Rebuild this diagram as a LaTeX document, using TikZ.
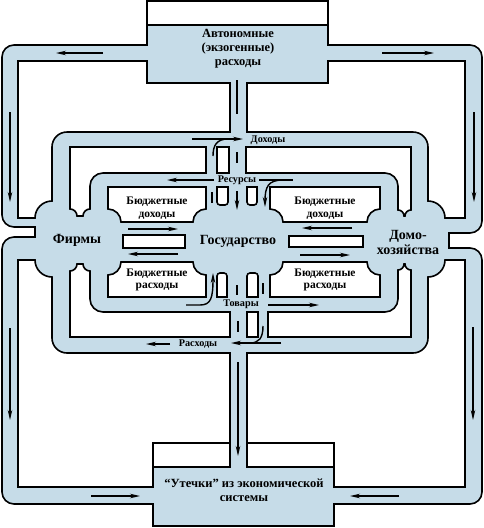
\documentclass[tikz,border=0pt]{standalone}
\usepackage{fontspec}
\setmainfont{Liberation Serif}
\usetikzlibrary{arrows.meta}
\definecolor{pipeblue}{RGB}{198,220,232}

\begin{document}
\begin{tikzpicture}[x=1pt, y=-1pt,
  pipe/.style={draw=black, line width=1.6pt, fill=pipeblue},
  hole/.style={draw=black, line width=1.6pt, fill=white},
  flow/.style={-{Stealth[length=10pt, width=4.5pt]}, line width=1.4pt},
  tick/.style={line width=1.4pt},
  agent/.style={font=\bfseries\fontsize{14}{15}\selectfont, align=center, inner sep=0pt},
  tag/.style={font=\bfseries\fontsize{11.5}{12.5}\selectfont, align=center, inner sep=0pt},
  ringtag/.style={font=\bfseries\fontsize{10.2}{12}\selectfont, inner sep=0pt}
]
  \useasboundingbox (0,0) rectangle (484,528);

  % Outer pipe with both boxes
  \draw[pipe] (147,1) -- (328,1) -- (328,45) -- (470,45) arc[start angle=-90, end angle=0, radius=12]
    -- (482,221) arc[start angle=0, end angle=90, radius=12] -- (449,233) -- (449,248)
    -- (470,248) arc[start angle=-90, end angle=0, radius=12]
    -- (482,492) arc[start angle=0, end angle=90, radius=12] -- (334,504) -- (334,526)
    -- (153,526) -- (153,504) -- (14,504) arc[start angle=90, end angle=180, radius=12]
    -- (2,249) arc[start angle=180, end angle=270, radius=12] -- (35,237) -- (35,227)
    -- (14,227) arc[start angle=90, end angle=180, radius=12]
    -- (2,57) arc[start angle=180, end angle=270, radius=12] -- (147,45) -- cycle;

  % Holes outside the middle ring
  \draw[hole] (18,61) -- (147,61) -- (147,83) -- (230,83) -- (230,132)
    -- (67,132) arc[start angle=-90, end angle=-180, radius=15]
    -- (52,201) arc[start angle=-90, end angle=-180, radius=17] -- (18,218) -- cycle;
  \draw[hole] (465,61) -- (328,61) -- (328,83) -- (247,83) -- (247,132)
    -- (413,132) arc[start angle=-90, end angle=0, radius=15]
    -- (428,201) arc[start angle=-90, end angle=0, radius=17] -- (465,218) -- cycle;
  \draw[hole] (18,260) -- (35,260) arc[start angle=180, end angle=90, radius=17]
    -- (52,338) arc[start angle=180, end angle=90, radius=15] -- (230,353) -- (230,443)
    -- (153,443) -- (153,487) -- (18,487) -- cycle;
  \draw[hole] (465,260) -- (445,260) arc[start angle=0, end angle=90, radius=17]
    -- (428,338) arc[start angle=0, end angle=90, radius=15] -- (247,353) -- (247,443)
    -- (334,443) -- (334,487) -- (465,487) -- cycle;

  % Holes between the middle and the inner ring
  \draw[hole] (70,147) -- (206,147) -- (206,173) -- (103,173) arc[start angle=-90, end angle=-180, radius=13]
    -- (90,209) arc[start angle=-90, end angle=-180, radius=7]
    -- (77,216) arc[start angle=0, end angle=-90, radius=7] -- cycle;
  \draw[hole] (217,147) rectangle (229,173);
  \draw[hole] (411,147) -- (246,147) -- (246,173) -- (385,173) arc[start angle=-90, end angle=0, radius=13]
    -- (398,210) arc[start angle=-90, end angle=0, radius=6]
    -- (405,216) arc[start angle=180, end angle=270, radius=6] -- cycle;
  \draw[hole] (70,337) -- (230,337) -- (230,312) -- (103,312) arc[start angle=90, end angle=180, radius=13]
    -- (90,271) arc[start angle=90, end angle=180, radius=7]
    -- (77,264) arc[start angle=0, end angle=90, radius=7] -- cycle;
  \draw[hole] (247,312) rectangle (258,337);
  \draw[hole] (411,337) -- (268,337) -- (268,312) -- (385,312) arc[start angle=90, end angle=0, radius=13]
    -- (398,270) arc[start angle=90, end angle=0, radius=6]
    -- (405,264) arc[start angle=180, end angle=90, radius=6] -- cycle;

  % Budget boxes inside the inner ring
  \draw[hole] (108,187) -- (206,187) -- (206,209) arc[start angle=-90, end angle=-180, radius=13]
    -- (121,222) arc[start angle=0, end angle=-90, radius=13] -- cycle;
  \draw[hole] (270,187) -- (380,187) -- (380,209) arc[start angle=-90, end angle=-180, radius=13]
    -- (283,222) arc[start angle=0, end angle=-90, radius=13] -- cycle;
  \draw[hole] (108,297) -- (108,275) arc[start angle=90, end angle=0, radius=13]
    -- (193,262) arc[start angle=180, end angle=90, radius=13] -- (206,297) -- cycle;
  \draw[hole] (270,297) -- (270,275) arc[start angle=90, end angle=0, radius=13]
    -- (367,262) arc[start angle=180, end angle=90, radius=13] -- (380,297) -- cycle;
  \draw[hole] (217,187) -- (217,202) arc[start angle=180, end angle=90, radius=3]
    -- (225,205) arc[start angle=90, end angle=0, radius=3] -- (228,187) -- cycle;
  \draw[hole] (247,187) -- (247,202) arc[start angle=180, end angle=90, radius=3]
    -- (254,205) arc[start angle=90, end angle=0, radius=3] -- (257,187) -- cycle;
  \draw[hole] (217,297) -- (217,276) arc[start angle=180, end angle=270, radius=3]
    -- (224,273) arc[start angle=270, end angle=360, radius=3] -- (227,297) -- cycle;
  \draw[hole] (247,297) -- (247,276) arc[start angle=180, end angle=270, radius=3]
    -- (255,273) arc[start angle=270, end angle=360, radius=3] -- (258,297) -- cycle;
  \draw[hole] (123,235) rectangle (185,248);
  \draw[hole] (289,236) rectangle (363,247);

  % White parts of the two boxes
  \draw[hole] (147,1) rectangle (328,25);
  \draw[hole] (153,443) rectangle (230,467);
  \draw[hole] (247,443) rectangle (334,467);

  % Flows in the outer pipe
  \draw[flow] (103,53) -- (56,53);
  \draw[flow] (382,53) -- (434,53);
  \draw[flow] (10,112) -- (10,202);
  \draw[flow] (10,328) -- (10,420);
  \draw[flow] (474,112) -- (474,202);
  \draw[flow] (473,327) -- (473,420);
  \draw[flow] (91,496) -- (140,496);
  \draw[flow] (399,496) -- (350,496);

  % Flows in the central column
  \draw[tick] (237,80) -- (237,114);
  \draw[tick] (237,152) -- (237,163);
  \draw[flow] (237,191) -- (237,210);
  \draw[tick] (212,192) -- (212,203);
  \draw[tick] (237,285) -- (237,295);
  \draw[tick] (263,283) -- (263,294);
  \draw[tick] (238,321) -- (238,332);
  \draw[flow] (238,362) -- (238,456);

  % Flows between the sectors
  \draw[flow] (128,229) -- (178,229);
  \draw[flow] (178,254) -- (128,254);
  \draw[flow] (352,228) -- (302,228);
  \draw[flow] (300,255) -- (350,255);

  % Ring labels and their flows
  \node[ringtag] (income) at (268,140) {Доходы};
  \draw[flow] (192,139) -- (243,139);
  \draw[tick] (213,156) .. controls (213,145) and (217,139) .. (228,139);
  \node[ringtag] (resources) at (237,180) {Ресурсы};
  \draw[flow] (214,180) -- (167,180);
  \draw[tick] (259,180) -- (293,180);
  \draw[flow] (283,180) .. controls (268,180) and (265,187) .. (265,207);
  \node[ringtag] (goods) at (241,304) {Товары};
  \draw[flow] (186,305) -- (200,305) .. controls (211,305) and (213,298) .. (213,273);
  \draw[flow] (268,305) -- (319,305);
  \node[ringtag] (spending) at (198,344) {Расходы};
  \draw[flow] (281,343) -- (231,343);
  \draw[tick] (263,326) .. controls (263,338) and (259,343) .. (250,343);
  \draw[flow] (170,344) -- (146,344);

  % Sectors
  \node[agent, font=\bfseries\fontsize{12.5}{14}\selectfont] (auto) at (238,49) {Автономные\\(экзогенные)\\расходы};
  \node[agent] (firms) at (77,240) {Фирмы};
  \node[agent] (state) at (238,241) {Государство};
  \node[agent] (house) at (408,242) {Домо-\\хозяйства};
  \node[agent, font=\bfseries\fontsize{12.5}{14}\selectfont] (leak) at (244,490) {“Утечки” из экономической\\системы};

  % Budget labels
  \node[tag] (bdl) at (157,208) {Бюджетные\\доходы};
  \node[tag] (bdr) at (325,208) {Бюджетные\\доходы};
  \node[tag] (bsl) at (157,280) {Бюджетные\\расходы};
  \node[tag] (bsr) at (325,280) {Бюджетные\\расходы};

\end{tikzpicture}
\end{document}
